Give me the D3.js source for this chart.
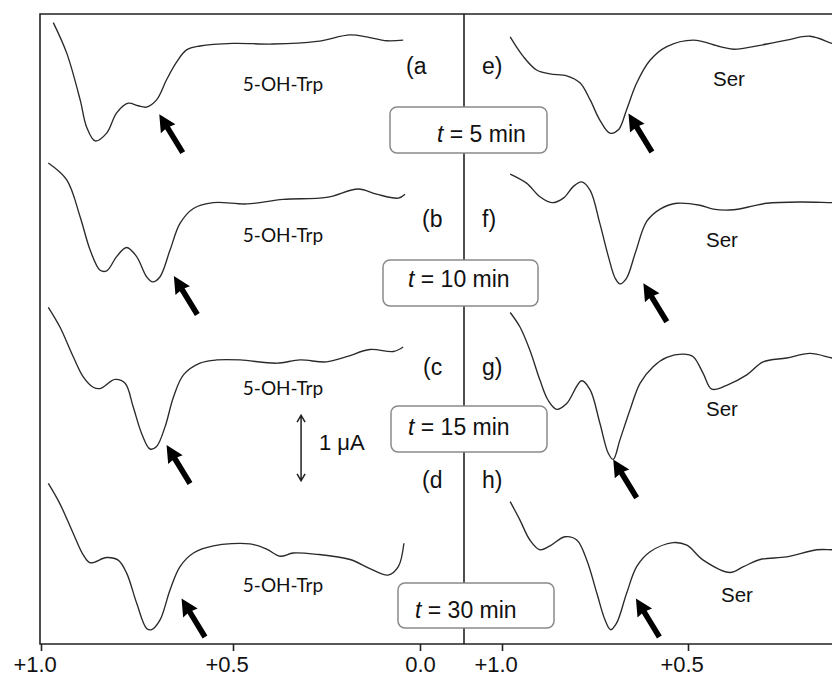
<!DOCTYPE html>
<html>
<head>
<meta charset="utf-8">
<script src="https://cdn.jsdelivr.net/npm/d3@7"></script>
<style>
  body { margin: 0; background: #fff; }
  svg { display: block; }
</style>
</head>
<body>
<svg id="chart" width="832" height="677"></svg>
<script>
'use strict';

// potencial (V) frente a corriente desplazada (uA), [E, I]
var tickValues = [1.0, 0.5, 0.0];
var rightTickValues = [1.0, 0.5];
var leftLetters = ["(a", "(b", "(c", "(d"];
var rightLetters = ["e)", "f)", "g)", "h)"];
var times = [5, 10, 15, 30];
var analytes = ["5-OH-Trp", "Ser"];

var trpA = [[0.968,9.56],[0.933,9.09],[0.898,8.37],[0.881,7.95],[0.859,7.74],[0.829,7.86],[0.803,8.17],[0.773,8.32],[0.747,8.28],[0.725,8.26],[0.699,8.37],[0.673,8.68],[0.647,8.95],[0.621,9.14],[0.586,9.20],[0.5,9.24],[0.393,9.23],[0.276,9.27],[0.187,9.37],[0.143,9.34],[0.089,9.28],[0.045,9.29]];
var trpB = [[0.981,7.40],[0.933,7.14],[0.898,6.57],[0.872,6.06],[0.846,5.75],[0.829,5.74],[0.803,5.96],[0.777,6.10],[0.751,5.96],[0.725,5.65],[0.709,5.57],[0.690,5.65],[0.664,6.06],[0.638,6.47],[0.603,6.70],[0.551,6.79],[0.463,6.77],[0.366,6.84],[0.250,6.87],[0.165,7.00],[0.116,6.92],[0.058,6.86],[0.040,6.92]];
var trpC = [[0.981,5.18],[0.951,4.88],[0.916,4.42],[0.890,4.11],[0.864,3.95],[0.846,3.93],[0.807,4.07],[0.781,4.01],[0.760,3.65],[0.738,3.24],[0.716,3.00],[0.699,3.04],[0.677,3.34],[0.655,3.80],[0.629,4.14],[0.586,4.32],[0.542,4.37],[0.481,4.37],[0.383,4.32],[0.321,4.37],[0.250,4.34],[0.196,4.42],[0.134,4.53],[0.071,4.50],[0.045,4.57]];
var trpD = [[0.981,2.47],[0.951,2.16],[0.916,1.70],[0.890,1.37],[0.872,1.25],[0.829,1.33],[0.799,1.29],[0.777,1.09],[0.751,0.63],[0.725,0.24],[0.712,0.22],[0.690,0.37],[0.664,0.83],[0.638,1.19],[0.603,1.40],[0.551,1.51],[0.455,1.54],[0.410,1.46],[0.374,1.35],[0.339,1.40],[0.276,1.38],[0.187,1.30],[0.134,1.16],[0.085,1.06],[0.058,1.19],[0.043,1.55]];

var serE = [[0.978,9.34],[0.943,9.04],[0.907,8.83],[0.871,8.77],[0.826,8.74],[0.790,8.63],[0.763,8.37],[0.737,8.06],[0.710,7.86],[0.687,7.91],[0.665,8.22],[0.638,8.63],[0.602,8.98],[0.557,9.19],[0.486,9.29],[0.414,9.19],[0.378,9.15],[0.288,9.23],[0.235,9.29],[0.172,9.35],[0.113,9.24],[0.09,9.20]];
var serF = [[0.978,7.23],[0.934,7.09],[0.898,6.88],[0.866,6.79],[0.835,6.86],[0.808,7.04],[0.786,7.11],[0.763,6.98],[0.737,6.47],[0.714,5.96],[0.696,5.63],[0.683,5.54],[0.665,5.63],[0.642,6.01],[0.611,6.50],[0.575,6.69],[0.530,6.78],[0.468,6.75],[0.432,6.69],[0.378,6.68],[0.324,6.74],[0.288,6.78],[0.199,6.80],[0.113,6.79],[0.09,6.79]];
var serG = [[0.978,5.10],[0.952,4.88],[0.925,4.52],[0.898,4.06],[0.876,3.75],[0.853,3.61],[0.826,3.70],[0.786,4.05],[0.763,3.91],[0.737,3.40],[0.714,2.93],[0.701,2.84],[0.683,3.14],[0.656,3.60],[0.629,4.01],[0.593,4.27],[0.557,4.41],[0.513,4.46],[0.486,4.42],[0.459,4.16],[0.436,3.92],[0.396,3.98],[0.342,4.14],[0.298,4.34],[0.235,4.40],[0.172,4.47],[0.113,4.40],[0.09,4.38]];
var serH = [[0.978,2.19],[0.952,1.91],[0.925,1.60],[0.898,1.45],[0.871,1.51],[0.831,1.65],[0.799,1.60],[0.772,1.29],[0.745,0.78],[0.723,0.37],[0.708,0.22],[0.692,0.32],[0.665,0.78],[0.638,1.19],[0.602,1.42],[0.540,1.56],[0.503,1.52],[0.459,1.29],[0.387,1.10],[0.351,1.19],[0.306,1.30],[0.235,1.34],[0.154,1.45],[0.113,1.45],[0.09,1.45]];

// puntas de las flechas [E, I]
var arrowTipsLeft = [[0.692,8.15],[0.654,5.66],[0.673,3.06],[0.634,0.70]];
var arrowTipsRight = [[0.660,8.16],[0.620,5.55],[0.701,2.84],[0.640,0.70]];

// barra de escala: 1 uA
var scaleBar = { E: 0.318, from: 2.51, to: 3.52 };

var FONT = "'Liberation Sans', Arial, sans-serif";

var svg = d3.select("#chart");
var axisY = 644, topY = 14, leftX = 40, rightX = 832, divX = 464;

var xL = d3.scaleLinear().domain([1.0, 0.5, 0.0]).range([41, 233, 420]);
var xR = d3.scaleLinear().domain([1.0, 0.5]).range([502, 688]);
var y = d3.scaleLinear().domain([0, 9.692]).range([axisY, topY]);

function fmt(d) { return d > 0 ? "+" + d.toFixed(1) : d.toFixed(1); }

// marco
svg.append("path")
  .attr("d", "M" + rightX + "," + topY + "H" + leftX + "V" + axisY + "H" + rightX)
  .attr("fill", "none").attr("stroke", "#222").attr("stroke-width", 1.6);

svg.append("line")
  .attr("x1", divX).attr("x2", divX).attr("y1", topY).attr("y2", axisY)
  .attr("stroke", "#222").attr("stroke-width", 1.6);

// ejes: el numero queda centrado en la marca y el "+" cuelga a la izquierda
function drawAxis(scale, ticks) {
  var g = svg.append("g")
    .attr("transform", "translate(0," + axisY + ")")
    .call(d3.axisBottom(scale).tickValues(ticks).tickSize(7).tickPadding(5).tickFormat(fmt));
  g.select(".domain").remove();
  g.selectAll(".tick line").attr("stroke", "#222").attr("stroke-width", 1.6);
  g.selectAll(".tick text")
    .attr("fill", "#111").attr("text-anchor", "end").attr("dx", "15.3px")
    .style("font-family", FONT).style("font-size", "22px");
}
drawAxis(xL, tickValues);
drawAxis(xR, rightTickValues);

// curvas
var lineL = d3.line().x(function (d) { return xL(d[0]); }).y(function (d) { return y(d[1]); })
  .curve(d3.curveCatmullRom.alpha(0.5));
var lineR = d3.line().x(function (d) { return xR(d[0]); }).y(function (d) { return y(d[1]); })
  .curve(d3.curveCatmullRom.alpha(0.5));

[trpA, trpB, trpC, trpD].forEach(function (c) {
  svg.append("path").attr("d", lineL(c)).attr("fill", "none")
    .attr("stroke", "#2a2a2a").attr("stroke-width", 1.35);
});
[serE, serF, serG, serH].forEach(function (c) {
  svg.append("path").attr("d", lineR(c)).attr("fill", "none")
    .attr("stroke", "#2a2a2a").attr("stroke-width", 1.35);
});

// flechas gruesas
function arrow(tx, ty) {
  var ux = 0.521, uy = 0.854, nx = -uy, ny = ux;
  var L = 45, hl = 17, hw = 8.5, sw = 2.8;
  var p = [
    [tx, ty],
    [tx + ux * hl + nx * hw, ty + uy * hl + ny * hw],
    [tx + ux * (hl - 1) + nx * sw, ty + uy * (hl - 1) + ny * sw],
    [tx + ux * L + nx * sw, ty + uy * L + ny * sw],
    [tx + ux * L - nx * sw, ty + uy * L - ny * sw],
    [tx + ux * (hl - 1) - nx * sw, ty + uy * (hl - 1) - ny * sw],
    [tx + ux * hl - nx * hw, ty + uy * hl - ny * hw]
  ];
  svg.append("path").attr("d", "M" + p.join("L") + "Z").attr("fill", "#000");
}
arrowTipsLeft.forEach(function (d) { arrow(xL(d[0]), y(d[1])); });
arrowTipsRight.forEach(function (d) { arrow(xR(d[0]), y(d[1])); });

// rotulos de cada traza
var letterBase = [74, 227, 375, 488];
var letterLeftX = [406, 422, 423, 422];
var trpBase = [91, 242, 395, 592];
var serBase = [86, 247, 416, 602];
var serX = [713, 706, 706, 721];
var boxes = [[390, 107, 157, 46], [383, 260, 155, 46], [391, 406, 156, 46], [398, 583, 156, 45]];
var boxTextX = [437, 408, 408, 415];
var boxTextBase = [142, 287, 435, 618];

for (var i = 0; i < 4; i++) {
  svg.append("text").attr("x", letterLeftX[i]).attr("y", letterBase[i])
    .style("font-family", FONT).style("font-size", "23px").attr("fill", "#111")
    .text(leftLetters[i]);
  svg.append("text").attr("x", 482).attr("y", letterBase[i])
    .style("font-family", FONT).style("font-size", "23px").attr("fill", "#111")
    .text(rightLetters[i]);
  svg.append("text").attr("x", 283).attr("y", trpBase[i]).attr("text-anchor", "middle")
    .style("font-family", "Lato, 'Open Sans', sans-serif").style("font-size", "19px").attr("fill", "#111")
    .text(analytes[0]);
  svg.append("text").attr("x", serX[i]).attr("y", serBase[i])
    .style("font-family", FONT).style("font-size", "20.5px").attr("fill", "#111")
    .text(analytes[1]);

  var b = boxes[i];
  svg.append("rect").attr("x", b[0]).attr("y", b[1]).attr("width", b[2]).attr("height", b[3])
    .attr("rx", 7).attr("fill", "#fff").attr("stroke", "#8a8a8a").attr("stroke-width", 1.5);
  var t = svg.append("text").attr("x", boxTextX[i]).attr("y", boxTextBase[i])
    .style("font-family", FONT).style("font-size", "23px").attr("fill", "#111");
  t.append("tspan").style("font-style", "italic").text("t");
  t.append("tspan").text(" = " + times[i] + " min");
}

// barra de escala
var sx = xL(scaleBar.E), sy1 = y(scaleBar.to), sy2 = y(scaleBar.from);
svg.append("path")
  .attr("d", "M" + sx + "," + sy1 + "V" + sy2 +
    "M" + (sx - 4) + "," + (sy1 + 7) + "L" + sx + "," + sy1 + "L" + (sx + 4) + "," + (sy1 + 7) +
    "M" + (sx - 4) + "," + (sy2 - 7) + "L" + sx + "," + sy2 + "L" + (sx + 4) + "," + (sy2 - 7))
  .attr("fill", "none").attr("stroke", "#222").attr("stroke-width", 1.5);
svg.append("text").attr("x", 319).attr("y", 450)
  .style("font-family", FONT).style("font-size", "22px").attr("fill", "#111")
  .text("1 \u03bcA");
</script>
</body>
</html>
